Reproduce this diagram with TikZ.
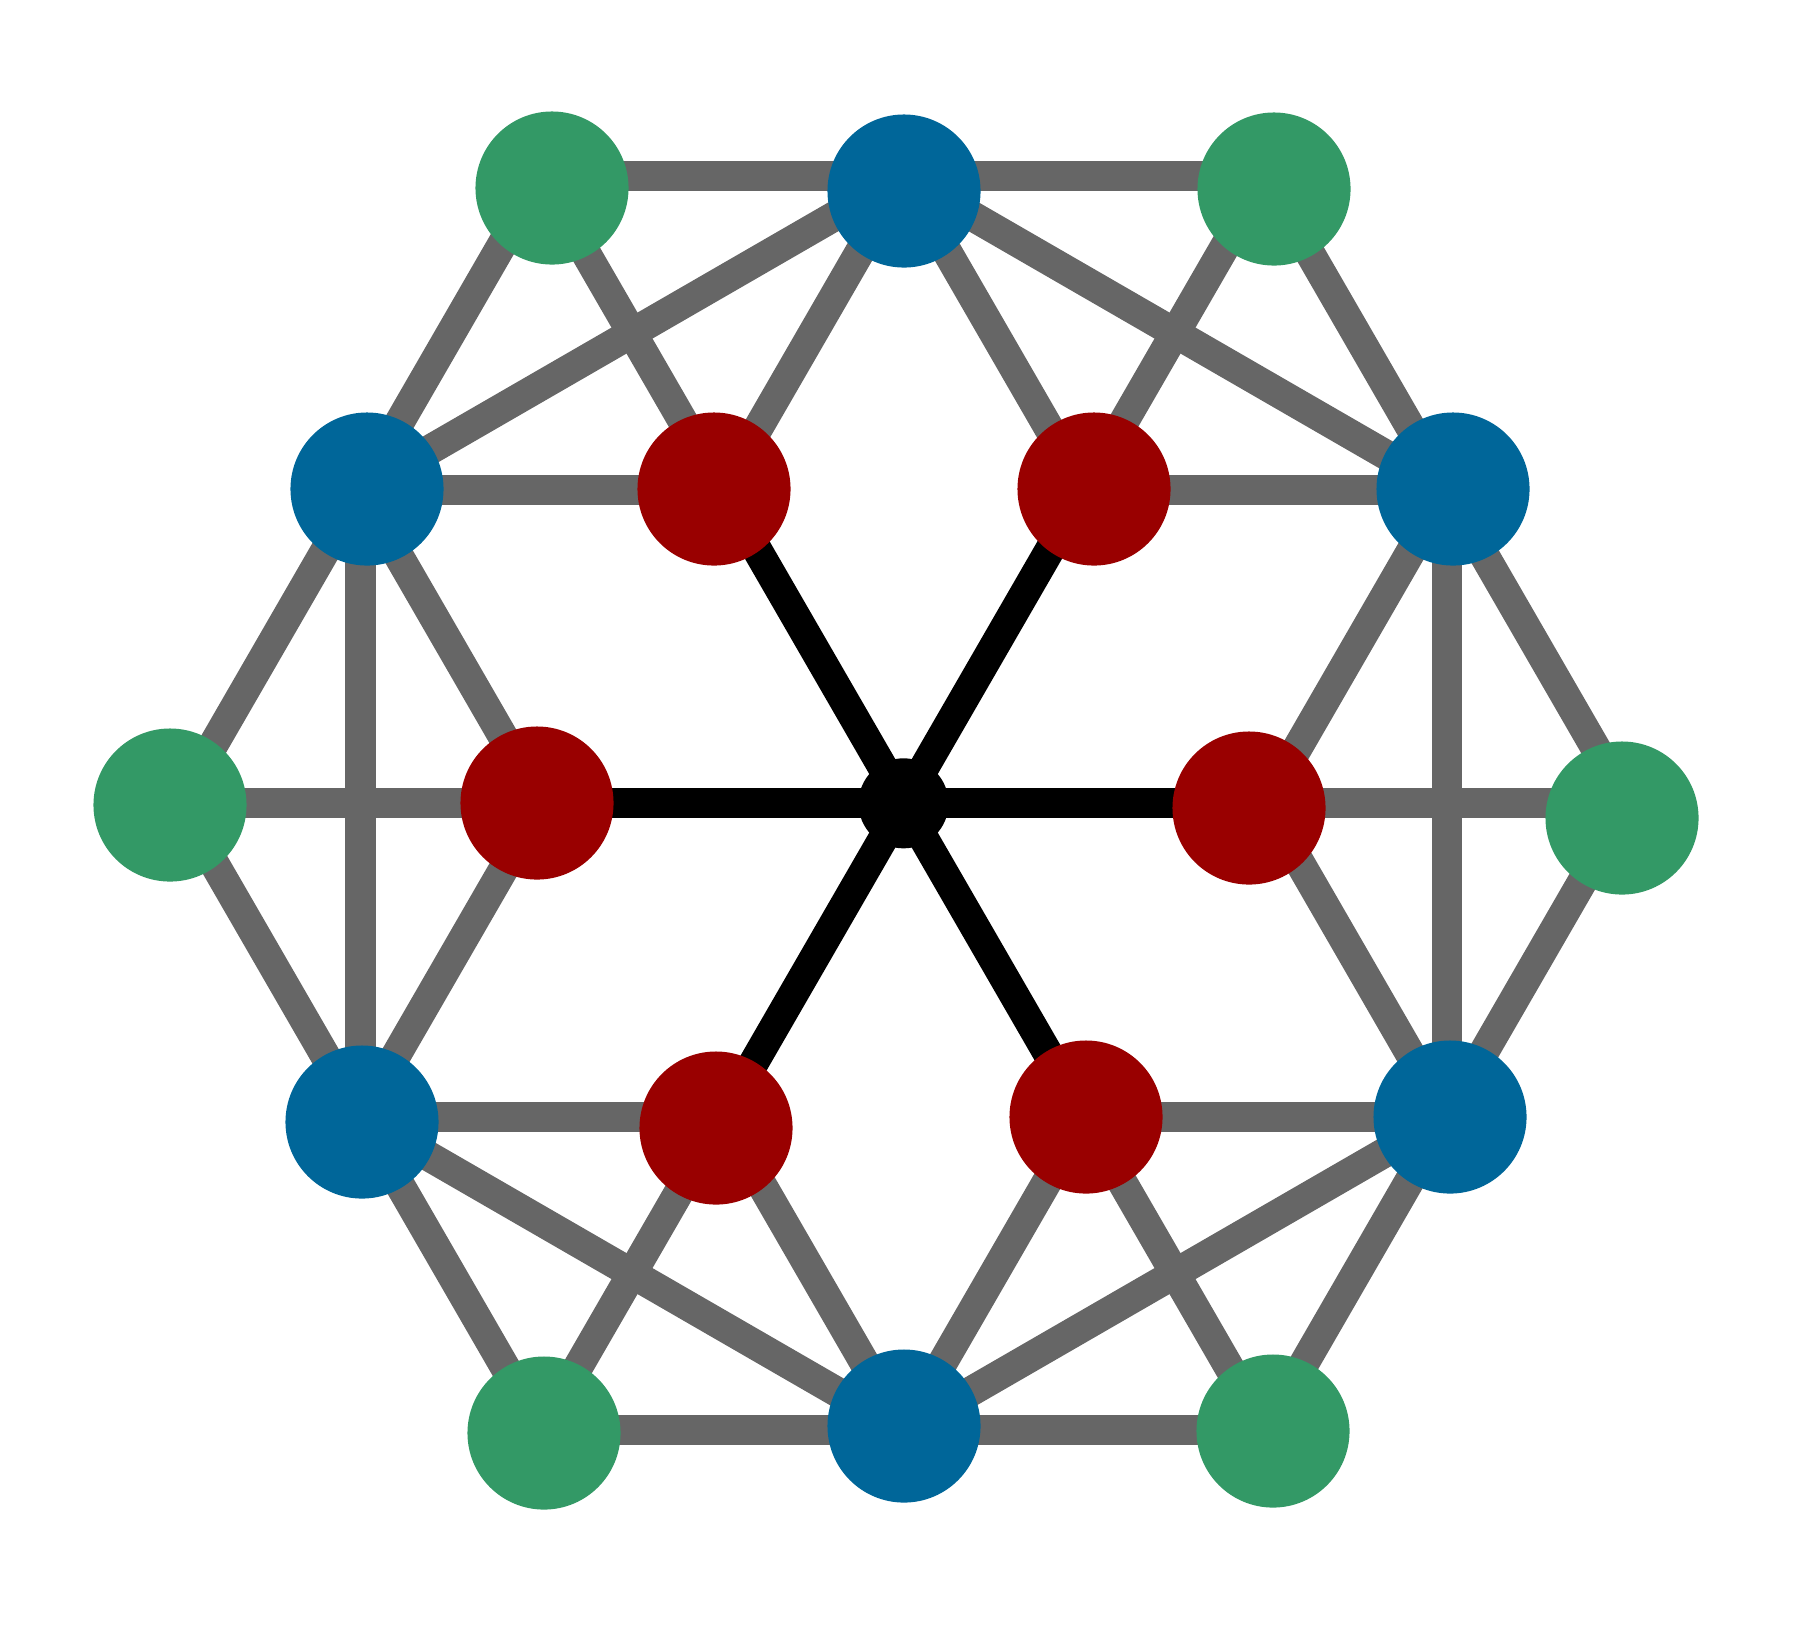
\documentclass[tikz,border=0pt]{standalone}
\definecolor{ngreen}{HTML}{339966}
\definecolor{nblue}{HTML}{006699}
\definecolor{nred}{HTML}{990000}
\definecolor{egrey}{HTML}{666666}
\begin{document}
\begin{tikzpicture}[x=0.01cm,y=-0.01cm,
  gedge/.style={draw=egrey,line width=0.3cm},
  bedge/.style={draw=black,line width=0.3cm},
  vtx/.style={circle,inner sep=0pt,minimum size=1.53cm,draw=none},
  rnode/.style={vtx,fill=nred},
  bnode/.style={vtx,fill=nblue},
  gnode/.style={vtx,fill=ngreen},
  cnode/.style={circle,inner sep=0pt,minimum size=0.9cm,draw=none,fill=black}]
\useasboundingbox (0,0) rectangle (1819,1632);
% ideal graph positions
\coordinate (pC) at (903.5,803.3);
\coordinate (pR0) at (1265.5,803.3);
\coordinate (pR60) at (1084.5,489.8);
\coordinate (pR120) at (722.5,489.8);
\coordinate (pR180) at (541.5,803.3);
\coordinate (pR240) at (722.5,1116.8);
\coordinate (pR300) at (1084.5,1116.8);
\coordinate (pB30) at (1446.5,489.8);
\coordinate (pB90) at (903.5,176.3);
\coordinate (pB150) at (360.5,489.8);
\coordinate (pB210) at (360.5,1116.8);
\coordinate (pB270) at (903.5,1430.3);
\coordinate (pB330) at (1446.5,1116.8);
\coordinate (pG0) at (1627.5,803.3);
\coordinate (pG60) at (1265.5,176.3);
\coordinate (pG120) at (541.5,176.3);
\coordinate (pG180) at (179.5,803.3);
\coordinate (pG240) at (541.5,1430.3);
\coordinate (pG300) at (1265.5,1430.3);
% grey edges
\foreach \a/\b in {G120/B90,B90/G60,G120/B150,G120/R120,B90/B150,B90/R120,B90/R60,B90/B30,
  G60/R60,G60/B30,B150/R120,R60/B30,B150/R180,B150/G180,B150/B210,G180/R180,G180/B210,
  R180/B210,B210/R240,B210/G240,B210/B270,R240/G240,R240/B270,G240/B270,B270/G300,
  B270/R300,B270/B330,R300/G300,R300/B330,G300/B330,B330/B30,B330/G0,B330/R0,
  R0/G0,R0/B30,G0/B30}
  \draw[gedge] (p\a) -- (p\b);
% black spokes
\foreach \r in {R0,R60,R120,R180,R240,R300}
  \draw[bedge] (pC) -- (p\r);
% nodes
\node[cnode] (C) at (pC) {};
\node[rnode] (R0) at (1249,808) {};
\node[rnode] (R60) at (1094,489) {};
\node[rnode] (R120) at (714,489) {};
\node[rnode] (R180) at (537,803) {};
\node[rnode] (R240) at (716,1128) {};
\node[rnode] (R300) at (1086,1117) {};
\node[bnode] (B30) at (1453,489) {};
\node[bnode] (B90) at (904,191) {};
\node[bnode] (B150) at (367,489) {};
\node[bnode] (B210) at (362,1122) {};
\node[bnode] (B270) at (904,1426) {};
\node[bnode] (B330) at (1450,1117) {};
\node[gnode] (G0) at (1622,818) {};
\node[gnode] (G60) at (1274,189) {};
\node[gnode] (G120) at (552,188) {};
\node[gnode] (G180) at (170,805) {};
\node[gnode] (G240) at (544,1433) {};
\node[gnode] (G300) at (1273,1431) {};
\end{tikzpicture}
\end{document}
